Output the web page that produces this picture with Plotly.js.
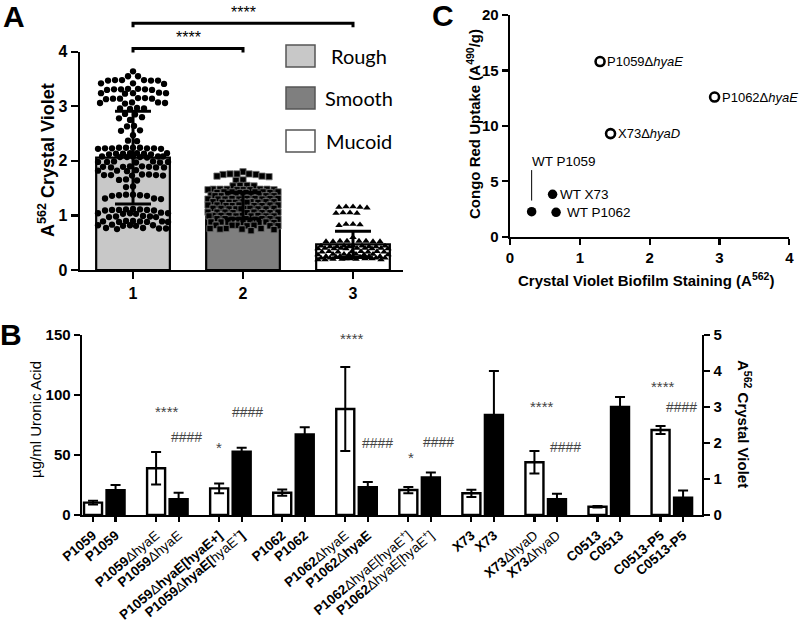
<!DOCTYPE html>
<html><head><meta charset="utf-8">
<script src="https://cdn.plot.ly/plotly-3.0.1.min.js"></script>
<style>html,body{margin:0;padding:0;background:#fff}</style>
</head><body><div id="chart" style="width:800px;height:622px"></div>
<script>
// ---------------- Panel A data ----------------
const morphCats = ['1', '2', '3'];
const morphNames = ['Rough', 'Smooth', 'Mucoid'];
const morphMeans = [2.06, 1.18, 0.47];
const morphSD = [0.85, 0.24, 0.24];
const roughVals = [3.64, 3.55, 3.55, 3.48, 3.48, 3.47, 3.47, 3.48, 3.47, 3.42, 3.42, 3.41,
  3.32, 3.31, 3.31, 3.30, 3.32, 3.30, 3.31, 3.24, 3.24, 3.23, 3.25, 3.24,
  3.14, 3.15, 3.14, 3.13, 3.15, 3.14, 3.07, 3.06, 3.07, 3.06, 3.05,
  2.96, 2.95, 2.97, 2.96, 2.86, 2.85, 2.78, 2.75, 2.80, 2.64, 2.63, 2.56, 2.55, 2.47, 2.37, 2.36,
  2.24, 2.23, 2.24, 2.23, 2.22, 2.24, 2.23, 2.24, 2.22, 2.23,
  2.14, 2.13, 2.14, 2.12, 2.13, 2.14, 2.13, 2.12,
  2.08, 2.07, 2.08, 2.07, 2.06, 2.08, 2.07, 2.08,
  1.98, 1.97, 1.99, 1.98, 1.97, 1.98, 1.99,
  1.89, 1.88, 1.90, 1.89, 1.88, 1.89, 1.90, 1.88,
  1.82, 1.81, 1.83, 1.82, 1.74, 1.75, 1.73, 1.74, 1.75, 1.74, 1.73,
  1.65, 1.64, 1.66, 1.53, 1.52,
  1.37, 1.38, 1.36, 1.37, 1.38, 1.36, 1.31, 1.30, 1.31,
  1.10, 1.11, 1.09, 1.10, 1.12, 1.10, 1.11, 1.09,
  1.04, 1.03, 1.05, 1.04, 1.03, 1.04, 0.98, 0.97, 0.99, 0.98, 0.97,
  0.89, 0.88, 0.90, 0.89, 0.88, 0.89, 0.90, 0.88,
  0.82, 0.81, 0.83, 0.82, 0.81, 0.82, 0.76, 0.77, 0.75, 0.76, 0.77];
const smoothVals = [1.80, 1.76, 1.76, 1.75, 1.76, 1.75, 1.72, 1.71, 1.72, 1.65, 1.64,
  1.55, 1.54, 1.55, 1.54,
  1.48, 1.47, 1.48, 1.47, 1.48, 1.47, 1.48, 1.47, 1.48, 1.47,
  1.43, 1.42, 1.43, 1.42, 1.43, 1.42, 1.43, 1.42, 1.43,
  1.37, 1.36, 1.37, 1.36, 1.37, 1.36, 1.37, 1.36, 1.37, 1.36,
  1.31, 1.30, 1.31, 1.30, 1.31, 1.30, 1.31, 1.30, 1.31, 1.30,
  1.25, 1.24, 1.25, 1.24, 1.25, 1.24, 1.25, 1.24, 1.25, 1.24,
  1.19, 1.18, 1.19, 1.18, 1.19, 1.18, 1.19, 1.18, 1.19,
  1.13, 1.12, 1.13, 1.12, 1.13, 1.12, 1.13, 1.12, 1.13, 1.12,
  1.06, 1.05, 1.06, 1.05, 1.06, 1.05, 1.06, 1.05, 1.06,
  1.00, 0.99, 1.00, 0.99, 1.00, 0.99, 1.00, 0.99, 1.00, 0.99,
  0.94, 0.93, 0.94, 0.93, 0.94, 0.93, 0.94, 0.93, 0.94,
  0.88, 0.87, 0.88, 0.87, 0.88, 0.87, 0.88, 0.87,
  0.82, 0.81, 0.82, 0.81, 0.82, 0.81, 0.82,
  0.76, 0.75, 0.76, 0.75, 0.76, 0.74, 0.72];
const mucoidVals = [1.16, 1.15, 1.16, 1.15, 1.14, 1.05, 1.04, 1.05, 1.04,
  0.84, 0.83, 0.82, 0.84, 0.60,
  0.53, 0.52, 0.53, 0.52, 0.53, 0.52, 0.53, 0.52,
  0.44, 0.43, 0.44, 0.43, 0.44, 0.43, 0.44, 0.43, 0.44, 0.43,
  0.40, 0.39, 0.40, 0.39, 0.40, 0.39, 0.40, 0.39, 0.40, 0.39,
  0.34, 0.33, 0.34, 0.33, 0.34, 0.33, 0.34, 0.33,
  0.29, 0.28, 0.29, 0.28, 0.29, 0.28, 0.29, 0.28,
  0.25, 0.24, 0.25, 0.24, 0.25, 0.24, 0.25,
  0.22, 0.21, 0.22, 0.21, 0.22, 0.21, 0.22, 0.21,
  0.20, 0.19, 0.20, 0.19, 0.20, 0.19];

// ---------------- Panel B data ----------------
const N = 'font-weight:normal';
const strainLabels = [
  'P1059', 'P1059',
  'P1059<span style="' + N + '">ΔhyaE</span>', 'P1059<span style="' + N + '">ΔhyaE</span>',
  'P1059<span style="' + N + '">Δ</span>hyaE[hyaE+]', 'P1059<span style="' + N + '">Δ</span>hyaE[<span style="' + N + '">hyaE<sup>+</sup></span>]',
  'P1062', 'P1062',
  'P1062<span style="' + N + '">ΔhyaE</span>', 'P1062<span style="' + N + '">Δ</span>hyaE',
  'P1062<span style="' + N + '">ΔhyaE[hyaE<sup>+</sup>]</span>', 'P1062<span style="' + N + '">ΔhyaE[hyaE<sup>+</sup>]</span>',
  'X73', 'X73',
  'X73<span style="' + N + '">ΔhyaD</span>', 'X73<span style="' + N + '">ΔhyaD</span>',
  'C0513', 'C0513',
  'C0513-P5', 'C0513-P5'];
const uronicAcid = [10.3, 38.9, 22.2, 18.6, 88.3, 20.8, 18.1, 43.9, 6.9, 70.8];
const uronicErr = [1.6, 13.5, 4.0, 2.6, 35.0, 2.6, 3.0, 9.4, 0.6, 3.4];
const crystalViolet = [0.69, 0.44, 1.76, 2.24, 0.77, 1.04, 2.78, 0.44, 3.00, 0.48];
const cvErr = [0.14, 0.18, 0.11, 0.20, 0.15, 0.14, 1.22, 0.15, 0.28, 0.20];

// ---------------- Panel C data ----------------
const mutantNames = ['P1059Δ<i>hyaE</i>', 'P1062Δ<i>hyaE</i>', 'X73Δ<i>hyaD</i>'];
const mutantCV = [1.29, 2.93, 1.44];
const mutantCR = [15.8, 12.6, 9.3];
const wtNames = ['WT P1059', 'WT X73', 'WT P1062'];
const wtCV = [0.31, 0.61, 0.66];
const wtCR = [2.26, 3.82, 2.20];

// ---------------- layout helpers ----------------
const W = 800, H = 622;
const FONT = 'Liberation Sans, Arial, sans-serif';
const px = x => x / W, py = y => 1 - y / H;

// Panel A geometry
const axA = {x0: 80, x1: 402.5, r0: 0.518, r1: 3.45, yb: 270, yt: 51.7, ymax: 4};
const axAx = v => axA.x0 + (v - axA.r0) / (axA.r1 - axA.r0) * (axA.x1 - axA.x0);
const axAy = v => axA.yb - v / axA.ymax * (axA.yb - axA.yt);

function swarm(vals, center, pxPerX, pxPerY, d, maxHalf) {
  const order = vals.map((v, i) => i).sort((a, b) => vals[b] - vals[a]);
  const placed = [];
  const xs = new Array(vals.length);
  for (const i of order) {
    const y = vals[i] * pxPerY;
    let best = 0, bestScore = -1;
    for (let k = 0; k <= 2 * maxHalf; k++) {
      const off = (k % 2 === 0 ? 1 : -1) * Math.ceil(k / 2);
      let minD = Infinity;
      for (const p of placed) { const dd = Math.hypot(p.x - off, p.y - y); if (dd < minD) minD = dd; }
      if (minD >= d) { best = off; bestScore = Infinity; break; }
      if (minD > bestScore) { bestScore = minD; best = off; }
    }
    placed.push({x: best, y});
    xs[i] = center + best / pxPerX;
  }
  return xs;
}
const pxPerXA = (axA.x1 - axA.x0) / (axA.r1 - axA.r0);
const pxPerYA = (axA.yb - axA.yt) / axA.ymax;
const groupVals = [roughVals, smoothVals, mucoidVals];
const symbols = ['circle', 'square', 'triangle-up'];
const spacing = [6.8, 6.2, 6.4];

const traces = [];
traces.push({
  type: 'bar', x: [1, 2, 3], y: morphMeans, width: 0.67, xaxis: 'x', yaxis: 'y',
  marker: {color: ['#c8c8c8', '#7f7f7f', '#ffffff'], line: {color: '#000', width: 2.2}},
  hoverinfo: 'skip'
});
groupVals.forEach((vals, g) => {
  traces.push({
    type: 'scatter', mode: 'markers', xaxis: 'x', yaxis: 'y', name: morphNames[g],
    x: swarm(vals, g + 1, pxPerXA, pxPerYA, spacing[g], 35), y: vals,
    marker: {symbol: symbols[g], size: g === 2 ? 6.5 : 6.3, color: '#000',
      line: {color: g === 1 ? '#777' : '#000', width: g === 1 ? 0.8 : 0}},
    hoverinfo: 'skip'
  });
});
traces.push({
  type: 'scatter', mode: 'markers', x: [1, 2, 3], y: morphMeans, xaxis: 'x', yaxis: 'y',
  marker: {size: 1, color: 'rgba(0,0,0,0)'},
  error_y: {type: 'data', array: morphSD, visible: true, color: '#000', thickness: 3, width: 18},
  hoverinfo: 'skip'
});

// Panel B
const G = 2.8;
const whiteX = uronicAcid.map((v, i) => i * G);
const blackX = crystalViolet.map((v, i) => i * G + 1);
traces.push({
  type: 'bar', x: whiteX, y: uronicAcid, width: 0.8, xaxis: 'x2', yaxis: 'y2',
  marker: {color: '#fff', line: {color: '#000', width: 2.4}},
  error_y: {type: 'data', array: uronicErr, visible: true, color: '#000', thickness: 2, width: 5},
  hoverinfo: 'skip'
});
traces.push({
  type: 'bar', x: blackX, y: crystalViolet, width: 0.8, xaxis: 'x2', yaxis: 'y3',
  marker: {color: '#000', line: {color: '#000', width: 2.4}},
  error_y: {type: 'data', array: cvErr, visible: true, color: '#000', thickness: 2, width: 5},
  hoverinfo: 'skip'
});
const tickPos = [];
whiteX.forEach((x, i) => { tickPos.push(x, blackX[i]); });

// Panel C
traces.push({
  type: 'scatter', mode: 'markers', x: mutantCV, y: mutantCR, xaxis: 'x3', yaxis: 'y4',
  marker: {symbol: 'circle-open', size: 9, color: '#000', line: {width: 2.6, color: '#000'}},
  hoverinfo: 'skip'
});
traces.push({
  type: 'scatter', mode: 'markers', x: wtCV, y: wtCR, xaxis: 'x3', yaxis: 'y4',
  marker: {symbol: 'circle', size: 9.5, color: '#000'},
  hoverinfo: 'skip'
});

const axStyle = {
  showline: true, linecolor: '#000', linewidth: 2.4, ticks: 'outside', ticklen: 6,
  tickwidth: 2.2, tickcolor: '#000', showgrid: false, zeroline: false, fixedrange: true,
  tickfont: {family: FONT, size: 16, color: '#000', weight: 'bold'}
};

const annotations = [];
const ann = (o) => annotations.push(Object.assign({showarrow: false, xref: 'paper', yref: 'paper',
  xanchor: 'center', yanchor: 'middle'}, o));
// Panel letters
ann({x: px(14), y: py(17), text: 'A', font: {family: FONT, size: 30, weight: 'bold', color: '#000'}});
ann({x: px(11), y: py(334), text: 'B', font: {family: FONT, size: 30, weight: 'bold', color: '#000'}});
ann({x: px(443), y: py(16), text: 'C', font: {family: FONT, size: 30, weight: 'bold', color: '#000'}});
// Panel A titles, legend, significance
ann({x: px(46), y: py(160), textangle: -90, text: 'A<sup>562</sup> Crystal Violet',
  font: {family: FONT, size: 18, weight: 'bold', color: '#000'}});
const legY = [56, 98, 141];
const legFill = ['#c8c8c8', '#7f7f7f', '#ffffff'];
const shapes = [];
morphNames.forEach((nm, i) => {
  shapes.push({type: 'rect', xref: 'paper', yref: 'paper', x0: px(286), x1: px(315),
    y0: py(legY[i] + 11), y1: py(legY[i] - 11), fillcolor: legFill[i], line: {color: '#555', width: 1.5}});
  ann({x: px(359), y: py(legY[i]), text: nm, font: {family: 'Lato, Open Sans, sans-serif', size: 20, color: '#000'}});
});
// brackets
const brackets = [[1, 3, 4.52, '****'], [1, 2, 4.06, '****']];
brackets.forEach(([a, b, lv, t]) => {
  const xa = px(axAx(a)), xb = px(axAx(b));
  const yTop = py(axAy(lv)), yEnd = py(axAy(lv) + 4);
  shapes.push({type: 'path', xref: 'paper', yref: 'paper',
    path: `M ${xa},${yEnd} L ${xa},${yTop} L ${xb},${yTop} L ${xb},${yEnd}`,
    line: {color: '#000', width: 3}});
  ann({x: (xa + xb) / 2, y: py(axAy(lv) - 11), text: t, font: {family: FONT, size: 16, color: '#000'}});
});

// Panel B titles & significance marks
ann({x: px(35), y: py(420), textangle: -90, text: 'µg/ml Uronic Acid', font: {family: FONT, size: 15, color: '#000'}});
ann({x: px(745), y: py(424), textangle: 90, text: 'A<sup>562</sup> Crystal Violet', font: {family: FONT, size: 15, weight: 'bold', color: '#000'}});
const sigMarks = [
  ['****', 3.29, 86], ['####', 4.17, 65], ['*', 5.59, 56], ['####', 6.88, 86],
  ['****', 11.5, 147], ['####', 12.65, 60], ['*', 14.12, 48], ['####', 15.32, 61],
  ['****', 19.94, 90], ['####', 20.96, 57], ['****', 25.31, 107], ['####', 26.11, 90]];
sigMarks.forEach(([t, x, y]) => annotations.push({showarrow: false, xref: 'x2', yref: 'y2', x, y, text: t,
  xanchor: 'center', yanchor: 'middle',
  font: {family: FONT, size: t[0] === '#' ? 14 : 15, color: '#444'}}));

// Panel C titles and labels
ann({x: px(473), y: py(124), textangle: -90, text: 'Congo Red Uptake (A<sup>490</sup>/g)',
  font: {family: FONT, size: 15, weight: 'bold', color: '#000'}});
ann({x: px(646), y: py(279), text: 'Crystal Violet Biofilm Staining (A<sup>562</sup>)',
  font: {family: FONT, size: 15, weight: 'bold', color: '#000'}});
mutantNames.forEach((nm, i) => annotations.push({showarrow: false, xref: 'x3', yref: 'y4', x: mutantCV[i], y: mutantCR[i],
  xanchor: 'left', yanchor: 'middle', xshift: 5, text: nm, font: {family: FONT, size: 13, color: '#000'}}));
const wtShift = [[-2, 50], [5, 0], [9, 0]];
wtNames.forEach((nm, i) => annotations.push({showarrow: false, xref: 'x3', yref: 'y4', x: wtCV[i], y: wtCR[i],
  xanchor: 'left', yanchor: 'middle', xshift: wtShift[i][0], yshift: wtShift[i][1], text: nm,
  font: {family: FONT, size: 13.5, color: '#000'}}));
shapes.push({type: 'line', xref: 'x3', yref: 'y4', x0: wtCV[0], x1: wtCV[0], y0: wtCR[0] + 1.0, y1: wtCR[0] + 3.75,
  line: {color: '#000', width: 1}});

const layout = {
  width: W, height: H, margin: {l: 0, r: 0, t: 0, b: 0}, showlegend: false,
  paper_bgcolor: '#fff', plot_bgcolor: 'rgba(0,0,0,0)', barmode: 'overlay',
  font: {family: FONT, color: '#000'},
  xaxis: Object.assign({}, axStyle, {domain: [px(axA.x0), px(axA.x1)], range: [axA.r0, axA.r1], anchor: 'y',
    tickvals: [1, 2, 3], ticktext: morphCats, ticklen: 7}),
  yaxis: Object.assign({}, axStyle, {domain: [py(axA.yb), py(axA.yt)], range: [0, 4], anchor: 'x', dtick: 1, ticklen: 7}),
  xaxis2: Object.assign({}, axStyle, {domain: [px(82), px(702)], range: [-0.49, 9 * G + 1 + 0.84], anchor: 'y2',
    tickvals: tickPos, ticktext: strainLabels, tickangle: -40, ticklen: 5,
    tickfont: {family: FONT, size: 13.5, color: '#000', weight: 'bold'}}),
  yaxis2: Object.assign({}, axStyle, {domain: [py(515), py(335)], range: [0, 150], anchor: 'x2',
    tickvals: [0, 50, 100, 150], tickfont: {family: FONT, size: 15, color: '#000', weight: 'bold'}}),
  yaxis3: Object.assign({}, axStyle, {overlaying: 'y2', side: 'right', range: [0, 5], anchor: 'x2',
    tickvals: [0, 1, 2, 3, 4, 5], tickfont: {family: FONT, size: 15, color: '#000', weight: 'bold'}}),
  xaxis3: Object.assign({}, axStyle, {domain: [px(510), px(789.3)], range: [0, 4], anchor: 'y4',
    tickvals: [0, 1, 2, 3, 4], tickfont: {family: FONT, size: 15, color: '#000', weight: 'bold'}}),
  yaxis4: Object.assign({}, axStyle, {domain: [py(236.7), py(15)], range: [0, 20], anchor: 'x3',
    tickvals: [0, 5, 10, 15, 20], tickfont: {family: FONT, size: 15, color: '#000', weight: 'bold'}}),
  annotations, shapes
};
Plotly.newPlot('chart', traces, layout, {staticPlot: true, displayModeBar: false});
</script></body></html>
